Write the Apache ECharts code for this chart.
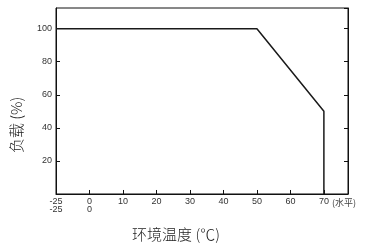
<!DOCTYPE html>
<html>
<head>
<meta charset="utf-8">
<script src="https://cdn.jsdelivr.net/npm/echarts@6/dist/echarts.min.js"></script>
<style>
html,body{margin:0;padding:0;background:#fff;}
#c{width:367px;height:247px;}
</style>
</head>
<body>
<div id="c"></div>
<script>
// Derating curve data
const temperatures = [-25, 50, 70, 70];   // ambient temperature (°C)
const loads = [100, 100, 50, 0];          // load (%)
const yTicks = [20, 40, 60, 80, 100];
const xTickLabels = {"-25": "-25\n-25", "0": "0\n0"};
const xTitle = "环境温度 (℃)";
const yTitle = "负载 (%)";
const xEndNote = "(水平)";

// broken axis: negative range compressed (−25 drawn at the −10 position)
const NEG_SCALE = 0.4;
const toPos = t => (t < 0 ? t * NEG_SCALE : t);
const fromPos = p => (p < 0 ? Math.round(p / NEG_SCALE) : Math.round(p));

const seriesData = temperatures.map((t, i) => [toPos(t), loads[i]]);

const chart = echarts.init(document.getElementById('c'), null, {renderer: 'canvas'});
const labelFont = {fontFamily: 'Liberation Sans, Arial, sans-serif', fontSize: 9, color: '#333'};

chart.setOption({
  animation: false,
  backgroundColor: '#fff',
  grid: {left: 56, right: 19, top: 8, bottom: 52, show: true, borderColor: '#111', borderWidth: 1},
  xAxis: {
    type: 'value',
    min: toPos(-25),
    max: 77.2,
    interval: 10,
    axisLine: {show: true, onZero: false, lineStyle: {color: '#111', width: 1}},
    axisTick: {show: true, inside: true, length: 4, lineStyle: {color: '#111'}},
    splitLine: {show: false},
    axisLabel: Object.assign({}, labelFont, {
      margin: 4,
      lineHeight: 8,
      showMaxLabel: false,
      formatter: v => {
        if (v > 70.5) return '';
        const t = fromPos(v);
        return xTickLabels[String(t)] !== undefined ? xTickLabels[String(t)] : String(t);
      }
    }),
    name: xTitle,
    nameLocation: 'middle',
    nameGap: 33,
    nameTextStyle: {fontFamily: 'Noto Sans CJK SC', fontSize: 15, fontWeight: 300, color: '#222', padding: [0, 52, 0, 0]}
  },
  yAxis: [{
    type: 'value',
    min: 0,
    max: 112.5,
    interval: 20,
    position: 'left',
    axisLine: {show: true, onZero: false, lineStyle: {color: '#111', width: 1}},
    axisTick: {show: true, inside: true, length: 4, lineStyle: {color: '#111'}},
    splitLine: {show: false},
    axisLabel: Object.assign({}, labelFont, {
      margin: 4,
      showMaxLabel: false,
      formatter: v => (yTicks.indexOf(v) >= 0 ? String(v) : '')
    }),
    name: yTitle,
    nameLocation: 'middle',
    nameGap: 32,
    nameRotate: 90,
    nameTextStyle: {fontFamily: 'Noto Sans CJK SC', fontSize: 15, fontWeight: 300, color: '#222', padding: [0, 48, 0, 0]}
  }, {
    type: 'value',
    min: 0,
    max: 112.5,
    interval: 20,
    position: 'right',
    axisLine: {show: true, onZero: false, lineStyle: {color: '#111', width: 1}},
    axisTick: {show: true, inside: true, length: 4, lineStyle: {color: '#111'}},
    splitLine: {show: false},
    axisLabel: {show: false}
  }],
  graphic: [{
    type: 'text',
    left: 332,
    top: 198,
    style: {text: xEndNote, fontFamily: 'Noto Sans CJK SC', fontSize: 9, fill: '#444'}
  }],
  series: [{
    type: 'line',
    data: seriesData,
    symbol: 'none',
    lineStyle: {color: '#1a1a1a', width: 1.5},
    z: 5
  }]
});
</script>
</body>
</html>
